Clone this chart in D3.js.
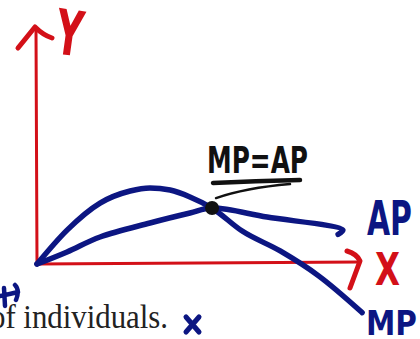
<!DOCTYPE html>
<html>
<head>
<meta charset="utf-8">
<script src="https://cdn.jsdelivr.net/npm/d3@7/dist/d3.min.js"></script>
<style>
  html, body { margin: 0; padding: 0; background: #fff; }
  svg { display: block; }
</style>
</head>
<body>
<svg id="chart" width="420" height="339"></svg>
<script>
// Marginal product (MP) and average product (AP) curves, in axis units (0..100)
const mpX = [0, 9.4, 19.7, 29.1, 35.3, 41.6, 47.8, 54.7, 64, 76, 88, 101.6];
const mpY = [0, 14.3, 25.7, 30.8, 32.1, 31.2, 28.3, 23.6, 14, 5.5, -5, -20.5];
const apX = [0, 9.4, 19.7, 35.3, 47.8, 54.7, 71.9, 95.6, 94.1];
const apY = [0, 5.1, 11.4, 17.3, 21.5, 23.6, 19.8, 14.3, 12.5];
// Point where MP crosses AP
const crossPoint = [54.7, 23.6];
const axisLabels = ["X", "Y"];
const curveLabels = ["AP", "MP"];
const crossLabel = "MP=AP";
const footText = "of individuals.";

const RED = "#d31018";
const BLUE = "#0c1682";
const HAND = "DejaVu Sans Condensed, DejaVu Sans";

const svg = d3.select("#chart");
const x = d3.scaleLinear().domain([0, 100]).range([37, 357]);
const y = d3.scaleLinear().domain([0, 100]).range([264, 27]);

const mpLine = d3.line().x(d => x(d[0])).y(d => y(d[1])).curve(d3.curveMonotoneX);
const apLine = d3.line().x(d => x(d[0])).y(d => y(d[1])).curve(d3.curveCatmullRom.alpha(0.5));

// Axes with hand-drawn arrowheads
const ax = svg.append("g").attr("stroke", RED).attr("fill", "none")
  .attr("stroke-linecap", "round").attr("stroke-linejoin", "round");
ax.append("line").attr("x1", x(0)).attr("y1", y(0)).attr("x2", x(0) - 1).attr("y2", y(100) + 3)
  .attr("stroke-width", 3);
ax.append("line").attr("x1", x(0)).attr("y1", y(0)).attr("x2", x(100) + 3).attr("y2", y(0) - 2)
  .attr("stroke-width", 3);
ax.append("path").attr("stroke-width", 5)
  .attr("d", `M${x(0) - 19},${y(100) + 21} L${x(0) - 2},${y(100)} Q${x(0) + 6},${y(100) + 8} ${x(0) + 15},${y(100) + 11}`);
ax.append("path").attr("stroke-width", 5)
  .attr("d", `M${x(100) - 10},${y(0) - 13} Q${x(100)},${y(0) - 10} ${x(100) + 3},${y(0) - 3} L${x(100) - 7},${y(0) + 24}`);

// Hand-lettered label: a text scaled vertically to reach a given cap height
function handText(str, x0, base, size, sy, len, fill, extra) {
  return svg.append("text").text(str)
    .attr("transform", `translate(${x0},${base}) ${extra || ""} scale(1,${sy})`)
    .attr("font-family", HAND).attr("font-weight", "bold")
    .attr("font-size", size).attr("textLength", len).attr("lengthAdjust", "spacingAndGlyphs")
    .attr("fill", fill);
}

handText(axisLabels[1], 53, 53, 50, 1.25, 27, RED, "rotate(8)");
handText(axisLabels[0], 375, 285, 36, 1.25, 25, RED);

// Curves
const mpData = mpX.map((v, i) => [v, mpY[i]]);
const apData = apX.map((v, i) => [v, apY[i]]);
svg.append("path").datum(mpData).attr("d", mpLine)
  .attr("fill", "none").attr("stroke", BLUE).attr("stroke-width", 5.5)
  .attr("stroke-linecap", "round").attr("stroke-linejoin", "round");
svg.append("path").datum(apData).attr("d", apLine)
  .attr("fill", "none").attr("stroke", BLUE).attr("stroke-width", 5.5)
  .attr("stroke-linecap", "round").attr("stroke-linejoin", "round");

svg.append("circle").attr("cx", x(crossPoint[0])).attr("cy", y(crossPoint[1]))
  .attr("r", 7).attr("fill", "#111");

// Curve labels
handText(curveLabels[0], 367, 235, 38, 1.24, 45, BLUE);
handText(curveLabels[1], 366, 335, 31, 1.1, 51, BLUE);

// Intersection annotation
handText(crossLabel, 207, 173, 34, 1.09, 101, "#111");
svg.append("path")
  .attr("d", "M213,183 Q255,181 300,180")
  .attr("fill", "none").attr("stroke", "#111").attr("stroke-width", 4.5).attr("stroke-linecap", "round");
svg.append("path")
  .attr("d", `M${x(crossPoint[0]) + 4},${y(crossPoint[1]) - 10} Q245,188 290,184`)
  .attr("fill", "none").attr("stroke", "#111").attr("stroke-width", 2.5).attr("stroke-linecap", "round");

// Footer text and pen marks
svg.append("text").text(footText)
  .attr("x", -10).attr("y", 328)
  .attr("font-family", "Liberation Serif, serif")
  .attr("font-size", 34).attr("textLength", 178).attr("lengthAdjust", "spacingAndGlyphs")
  .attr("fill", "#222");
const pen = svg.append("g").attr("stroke", BLUE).attr("fill", "none")
  .attr("stroke-linecap", "round").attr("stroke-linejoin", "round");
pen.append("path").attr("stroke-width", 5).attr("d", "M186,317 L199,332 M199,317 L186,332");
pen.append("path").attr("stroke-width", 4.5).attr("d", "M4,288 L5,306 M0,296 Q10,294 18,292 M15,285 Q20,290 16,300");
</script>
</body>
</html>
